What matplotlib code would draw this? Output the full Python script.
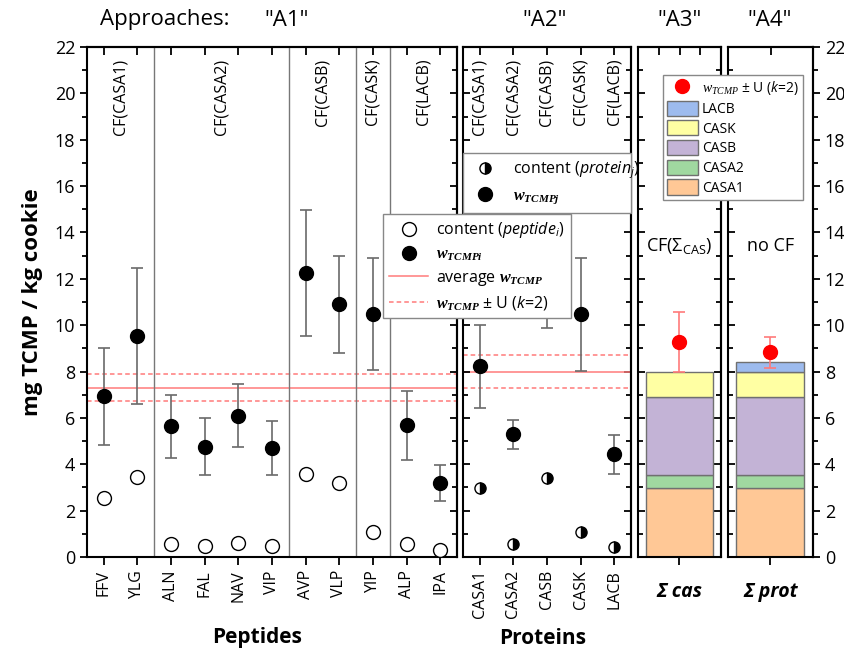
import matplotlib
matplotlib.use("Agg")
import matplotlib.pyplot as plt
from matplotlib.lines import Line2D
from matplotlib.patches import Patch
from matplotlib.ticker import FixedLocator, NullFormatter
import numpy as np

plt.rcParams['font.family'] = ['Open Sans', 'DejaVu Sans']
plt.rcParams['mathtext.fontset'] = 'custom'
plt.rcParams['mathtext.rm'] = 'Open Sans'
plt.rcParams['mathtext.it'] = 'Open Sans:italic'
plt.rcParams['mathtext.bf'] = 'Liberation Serif:italic:bold'
plt.rcParams['mathtext.sf'] = 'Liberation Serif:italic'

# ---------------- data ----------------
peptides = ['FFV', 'YLG', 'ALN', 'FAL', 'NAV', 'VIP', 'AVP', 'VLP', 'YIP', 'ALP', 'IPA']
pep_content = [2.53, 3.47, 0.56, 0.47, 0.61, 0.47, 3.59, 3.20, 1.07, 0.58, 0.32]
pep_w = [6.93, 9.52, 5.63, 4.75, 6.09, 4.70, 12.24, 10.91, 10.48, 5.69, 3.20]
pep_U = [2.08, 2.94, 1.35, 1.23, 1.36, 1.18, 2.72, 2.09, 2.42, 1.49, 0.79]
pep_avg = 7.31
pep_avg_U = 0.58
cf_groups = ['CF(CASA1)', 'CF(CASA2)', 'CF(CASB)', 'CF(CASK)', 'CF(LACB)']
cf_group_sizes = [2, 4, 2, 1, 2]

proteins = ['CASA1', 'CASA2', 'CASB', 'CASK', 'LACB']
prot_content = [2.98, 0.54, 3.39, 1.07, 0.43]
prot_w = [8.23, 5.30, 11.57, 10.47, 4.44]
prot_U = [1.79, 0.63, 1.71, 2.43, 0.84]
prot_avg = 8.00
prot_avg_U = 0.73

cas_w = 9.28
cas_U = 1.30
prot_sum_w = 8.84
prot_sum_U = 0.67

bar_colors = {'CASA1': '#FFC896', 'CASA2': '#A0D8A0', 'CASB': '#C3B3D6',
              'CASK': '#FFFFA3', 'LACB': '#9DBBEE'}

approach_titles = ['"A1"', '"A2"', '"A3"', '"A4"']
y_major = list(range(0, 23, 2))
y_minor = list(range(1, 22, 2))

# ---------------- figure ----------------
W, H = 845, 655
fig = plt.figure(figsize=(W / 100, H / 100), dpi=100)

def ax_rect(x0, x1, ytop=47, ybot=557):
    return [x0 / W, 1 - ybot / H, (x1 - x0) / W, (ybot - ytop) / H]

ax1 = fig.add_axes(ax_rect(87, 457))
ax2 = fig.add_axes(ax_rect(463, 631))
ax3 = fig.add_axes(ax_rect(638, 721))
ax4 = fig.add_axes(ax_rect(728, 813))

YMAX = 22
SPW = 1.5
ERRC = '#6a6a6a'
RED = '#FF7A7A'

for ax in (ax1, ax2, ax3, ax4):
    ax.set_ylim(0, YMAX)
    for s in ax.spines.values():
        s.set_linewidth(SPW)
    ax.yaxis.set_major_locator(FixedLocator(y_major))
    ax.yaxis.set_minor_locator(FixedLocator(y_minor))


def style_y(ax, left_dir, right_dir, left_labels=False, right_labels=False):
    ax.tick_params(axis='y', which='both', direction=left_dir, width=1.3,
                   labelleft=left_labels, labelsize=13, right=False)
    ax.tick_params(axis='y', which='major', length=5)
    ax.tick_params(axis='y', which='minor', length=3.5)
    sec = ax.secondary_yaxis('right')
    sec.yaxis.set_major_locator(FixedLocator(y_major))
    sec.yaxis.set_minor_locator(FixedLocator(y_minor))
    if not right_labels:
        sec.yaxis.set_major_formatter(NullFormatter())
    sec.tick_params(axis='y', which='both', direction=right_dir, width=1.3,
                    labelright=right_labels, labelsize=13)
    sec.tick_params(axis='y', which='major', length=5)
    sec.tick_params(axis='y', which='minor', length=3.5)
    sec.spines['right'].set_linewidth(SPW)


def style_x(ax, ticks, labels, top_ticks, rot=90, fs=11.5, **kw):
    ax.set_xticks(ticks)
    ax.set_xticklabels(labels, rotation=rot, fontsize=fs, **kw)
    ax.tick_params(axis='x', which='major', direction='out', length=6, width=1.3, top=False)
    sec = ax.secondary_xaxis('top')
    sec.set_xticks(top_ticks)
    sec.set_xticklabels([''] * len(top_ticks))
    sec.tick_params(axis='x', direction='in', length=6, width=1.3, labeltop=False)
    sec.spines['top'].set_linewidth(SPW)

# ---------------- panel 1: peptides ----------------
xp = np.arange(len(peptides))
ax1.set_xlim(-0.5, len(peptides) - 0.5)
ax1.axhline(pep_avg, color=RED, lw=1.1, zorder=1)
ax1.axhline(pep_avg + pep_avg_U, color=RED, lw=1.1, ls=(0, (3, 2)), zorder=1)
ax1.axhline(pep_avg - pep_avg_U, color=RED, lw=1.1, ls=(0, (3, 2)), zorder=1)
bounds = np.cumsum(cf_group_sizes)
start = 0
for name, size in zip(cf_groups, cf_group_sizes):
    center = start + (size - 1) / 2
    ax1.text(center, 21.5, name, rotation=90, ha='center', va='top', fontsize=11.5)
    start += size
for b in bounds[:-1]:
    ax1.axvline(b - 0.5, color='#777777', lw=1.0, zorder=1)
ax1.errorbar(xp, pep_w, yerr=pep_U, fmt='none', ecolor=ERRC, elinewidth=1.2,
             capsize=4.5, capthick=1.2, zorder=2)
ax1.plot(xp, pep_w, 'o', color='black', ms=10, zorder=3)
ax1.plot(xp, pep_content, 'o', mfc='white', mec='black', mew=1.0, ms=10, zorder=3)
style_x(ax1, xp, peptides, xp)
style_y(ax1, 'out', 'in', left_labels=True)
ax1.set_ylabel('mg TCMP / kg cookie', fontsize=16, fontweight='bold', labelpad=8)

# ---------------- panel 2: proteins ----------------
xq = np.arange(len(proteins))
ax2.set_xlim(-0.5, len(proteins) - 0.5)
ax2.axhline(prot_avg, color=RED, lw=1.1, zorder=1)
ax2.axhline(prot_avg + prot_avg_U, color=RED, lw=1.1, ls=(0, (3, 2)), zorder=1)
ax2.axhline(prot_avg - prot_avg_U, color=RED, lw=1.1, ls=(0, (3, 2)), zorder=1)
for i, p in enumerate(proteins):
    ax2.text(i, 21.5, 'CF(%s)' % p, rotation=90, ha='center', va='top', fontsize=11.5)
ax2.errorbar(xq, prot_w, yerr=prot_U, fmt='none', ecolor=ERRC, elinewidth=1.2,
             capsize=4.5, capthick=1.2, zorder=2)
ax2.plot(xq, prot_w, 'o', color='black', ms=10, zorder=3)
ax2.plot(xq, prot_content, 'o', fillstyle='right', mfc='black', mfcalt='white',
         mec='black', mew=1.0, ms=8, zorder=3)
style_x(ax2, xq, proteins, xq)
style_y(ax2, 'in', 'in')

# ---------------- panel 3 / 4: stacked sums ----------------
def stacked(ax, names):
    bottom = 0
    for n in names:
        v = prot_content[proteins.index(n)]
        ax.bar(0, v, bottom=bottom, width=0.8, color=bar_colors[n],
               edgecolor='#707070', lw=1.0, zorder=1)
        bottom += v

for ax in (ax3, ax4):
    ax.set_xlim(-0.5, 0.5)

stacked(ax3, ['CASA1', 'CASA2', 'CASB', 'CASK'])
ax3.errorbar([0], [cas_w], yerr=[cas_U], fmt='o', color='red', ms=10,
             ecolor=RED, elinewidth=1.2, capsize=4.5, capthick=1.2, zorder=3)
ax3.text(0, 13.4, 'CF(Σ$_{\\mathrm{CAS}}$)', ha='center', va='center', fontsize=13)
style_x(ax3, [0], ['Σ cas'], [-0.25, 0, 0.25], rot=0, fs=14,
        fontweight='bold', fontstyle='italic')
ax3.tick_params(axis='x', pad=12)
style_y(ax3, 'in', 'in')

stacked(ax4, ['CASA1', 'CASA2', 'CASB', 'CASK', 'LACB'])
ax4.errorbar([0], [prot_sum_w], yerr=[prot_sum_U], fmt='o', color='red', ms=10,
             ecolor=RED, elinewidth=1.2, capsize=4.5, capthick=1.2, zorder=3)
ax4.text(0, 13.4, 'no CF', ha='center', va='center', fontsize=13)
style_x(ax4, [0], ['Σ prot'], [0], rot=0, fs=14,
        fontweight='bold', fontstyle='italic')
ax4.tick_params(axis='x', pad=12)
style_y(ax4, 'in', 'out', right_labels=True)

# ---------------- legends ----------------
h1 = [Line2D([], [], ls='none', marker='o', mfc='white', mec='black', ms=10),
      Line2D([], [], ls='none', marker='o', color='black', ms=10),
      Line2D([], [], color=RED, lw=1.1),
      Line2D([], [], color=RED, lw=1.1, ls=(0, (3, 2)))]
l1 = [r'content ($\mathit{peptide}_\mathit{i}$)', r'$\mathbf{w_{TCMPi}}$',
      r'average $\mathbf{w_{TCMP}}$', r'$\mathbf{w_{TCMP}}$ ± U ($\mathit{k}$=2)']
fig.legend(h1, l1, loc='upper left', bbox_to_anchor=(383 / W, 1 - 214 / H),
           borderaxespad=0, frameon=True, fancybox=False, edgecolor='#888888',
           framealpha=1, fontsize=11.5, labelspacing=0.4, handlelength=2.4,
           handletextpad=0.5, borderpad=0.4)

h2 = [Line2D([], [], ls='none', marker='o', fillstyle='right', mfc='black',
             mfcalt='white', mec='black', ms=8),
      Line2D([], [], ls='none', marker='o', color='black', ms=10)]
l2 = [r'content ($\mathit{protein}_\mathit{j}$)', r'$\mathbf{w_{TCMPj}}$']
ax2.legend(h2, l2, loc='upper left', bbox_to_anchor=(0, 0.688, 1, 0.104),
           mode='expand', borderaxespad=0, frameon=True, fancybox=False,
           edgecolor='#888888', framealpha=1, fontsize=11.5, labelspacing=0.4,
           handlelength=2.0, handletextpad=0.7)

h3 = [Line2D([], [], ls='none', marker='o', color='red', ms=10)]
l3 = [r'$\mathsf{w_{TCMP}}$ ± U ($\mathit{k}$=2)']
for n in ['LACB', 'CASK', 'CASB', 'CASA2', 'CASA1']:
    h3.append(Patch(facecolor=bar_colors[n], edgecolor='#707070'))
    l3.append(n)
fig.legend(h3, l3, loc='upper left', bbox_to_anchor=(663 / W, 1 - 75 / H),
           borderaxespad=0, frameon=True, fancybox=False, edgecolor='#888888',
           framealpha=1, fontsize=10, labelspacing=0.25, handlelength=2.2,
           handleheight=1.3, handletextpad=0.3, borderpad=0.3)

# ---------------- titles / group labels ----------------
fig.text(165 / W, 1 - 20 / H, 'Approaches:', ha='center', va='center', fontsize=16)
for xpix, t in zip([287, 545, 680, 770], approach_titles):
    fig.text(xpix / W, 1 - 20 / H, t, ha='center', va='center', fontsize=16)
fig.text(257 / W, 1 - 638 / H, 'Peptides', ha='center', va='center',
         fontsize=15, fontweight='bold')
fig.text(543 / W, 1 - 638 / H, 'Proteins', ha='center', va='center',
         fontsize=15, fontweight='bold')

fig.savefig('out.png', dpi=100)
